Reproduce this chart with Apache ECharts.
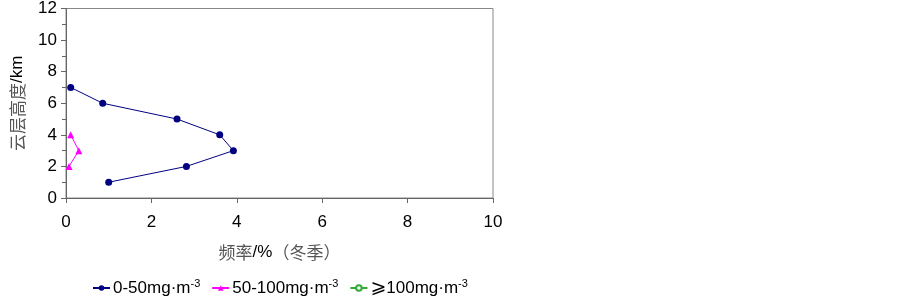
<!DOCTYPE html>
<html><head><meta charset="utf-8">
<script src="https://cdn.jsdelivr.net/npm/echarts@6/dist/echarts.min.js"></script>
<style>html,body{margin:0;padding:0;background:#fff}#c{width:903px;height:301px}</style>
</head><body><div id="c"></div>
<script>
const heights = [1, 2, 3, 4, 5, 6, 7];
const s1Name = '0-50mg·m{sup|-3}';
const s1Freq = [1.0, 2.82, 3.92, 3.6, 2.6, 0.86, 0.11];
const s2Name = '50-100mg·m{sup|-3}';
const s2Heights = [2, 3, 4];
const s2Freq = [0.07, 0.3, 0.11];
const s3Name = '{ge|⩾}100mg·m{sup|-3}';
const s3Heights = [];
const s3Freq = [];
const xTicks = [0, 2, 4, 6, 8, 10];
const yTicks = [0, 2, 4, 6, 8, 10, 12];

const pairs = (xs, ys) => xs.map((x, i) => [x, ys[i]]);
const chart = echarts.init(document.getElementById('c'));
const F = 'Liberation Sans, Arial, sans-serif';
chart.setOption({
  animation: false,
  textStyle: { fontFamily: F },
  grid: { left: 66, right: 410, top: 7, bottom: 103, show: true, borderColor: '#888', borderWidth: 1 },
  xAxis: {
    type: 'value', min: xTicks[0], max: xTicks[xTicks.length - 1], interval: 2,
    axisLine: { lineStyle: { color: '#666' } },
    axisTick: { show: true, length: 5, lineStyle: { color: '#666' } },
    axisLabel: { color: '#000', fontSize: 17, margin: 16, fontFamily: F },
    splitLine: { show: false },
    name: '{c|频率}{b|/%}{c|（冬季）}', nameLocation: 'middle', nameGap: 46,
    nameTextStyle: { rich: {
      c: { color: '#555', fontSize: 17, fontFamily: 'Noto Sans CJK SC' },
      b: { color: '#000', fontSize: 17, fontFamily: F }
    } }
  },
  yAxis: {
    type: 'value', min: yTicks[0], max: yTicks[yTicks.length - 1], interval: 2,
    axisLine: { show: true, lineStyle: { color: '#666' } },
    axisTick: { show: true, length: 5, lineStyle: { color: '#666' } },
    minorTick: { show: true, splitNumber: 2, length: 4, lineStyle: { color: '#666' } },
    axisLabel: { color: '#000', fontSize: 17, margin: 9, fontFamily: F },
    splitLine: { show: false },
    name: '{c|云层高度}{b|/km}', nameLocation: 'middle', nameGap: 40, nameRotate: 90,
    nameTextStyle: { rich: {
      c: { color: '#555', fontSize: 17, fontFamily: 'Noto Sans CJK SC' },
      b: { color: '#000', fontSize: 17, fontFamily: F }
    } }
  },
  legend: {
    top: 273, left: 87, itemWidth: 17, itemHeight: 7, itemGap: 11,
    textStyle: { color: '#000', fontSize: 17, fontFamily: F, padding: [0, 0, 0, -2],
      rich: {
        sup: { fontSize: 11, verticalAlign: 'top', padding: [0, 0, 9, 0], color: '#000', fontFamily: F },
        ge: { fontSize: 19, color: '#000', fontFamily: 'DejaVu Sans' }
      } },
    data: [s1Name, s2Name, s3Name]
  },
  series: [
    { name: s1Name, type: 'line', data: pairs(s1Freq, heights), symbol: 'circle', symbolSize: 7,
      lineStyle: { color: '#000080', width: 1 }, itemStyle: { color: '#000080' } },
    { name: s2Name, type: 'line', data: pairs(s2Freq, s2Heights), symbol: 'triangle', symbolSize: 7,
      lineStyle: { color: '#FF00FF', width: 1 }, itemStyle: { color: '#FF00FF' } },
    { name: s3Name, type: 'line', data: pairs(s3Freq, s3Heights), symbol: 'emptyCircle', symbolSize: 7,
      lineStyle: { color: '#33AA33', width: 1 }, itemStyle: { color: '#33AA33', borderColor: '#33AA33' } }
  ]
});
</script></body></html>
